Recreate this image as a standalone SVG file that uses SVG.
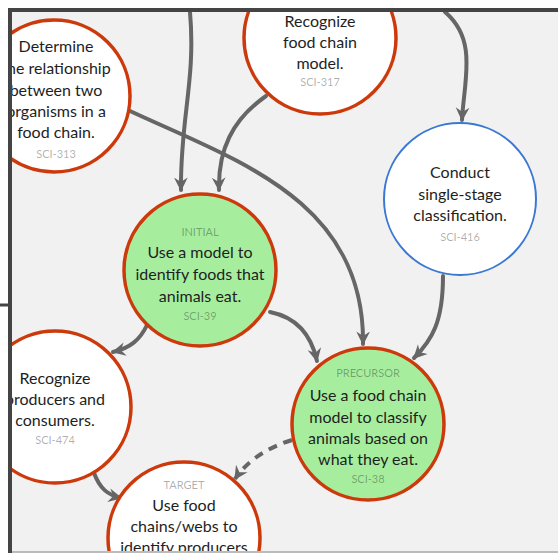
<svg xmlns="http://www.w3.org/2000/svg" width="558" height="553" viewBox="0 0 558 553">
<defs>
<clipPath id="frameClip"><rect x="12" y="12" width="546" height="539"/></clipPath>
<marker id="arr" markerUnits="userSpaceOnUse" markerWidth="15" markerHeight="15" viewBox="0 0 12 12" refX="10" refY="6" orient="auto">
<path d="M0,0.5 L11,6 L0,11.5 L3.5,6 z" fill="#666"/>
</marker>
<style>
.edge{fill:none;stroke:#666;stroke-width:4;stroke-linecap:round}
.dash{stroke-dasharray:9 7;stroke-linecap:butt}
.red{stroke:#cc3a0c;stroke-width:3.5}
.blue{stroke:#3b78d4;stroke-width:2}
.white{fill:#fff}
.green{fill:#a6ee9e}
text{font-family:Lato,"Open Sans","Noto Sans",sans-serif;text-anchor:middle}
.t{font-size:16px;fill:#1e1e1e}
.s{font-size:11px;fill:#000;fill-opacity:0.32}
</style>
</defs>
<rect x="0" y="0" width="558" height="553" fill="#fff"/>
<rect x="12" y="12" width="546" height="539" fill="#f1f1f1"/>
<g clip-path="url(#frameClip)">
<g id="connectors">
<path class="edge" d="M190,12 C196,80 180,120 181,190" marker-end="url(#arr)"/>
<path class="edge" d="M266,96 C232,120 218,150 219,190" marker-end="url(#arr)"/>
<path class="edge" d="M130,111 C235,160 365,200 363,344" marker-end="url(#arr)"/>
<path class="edge" d="M445,12 C478,40 464,80 462,120" marker-end="url(#arr)"/>
<path class="edge" d="M443,276 C443,322 432,340 414,358" marker-end="url(#arr)"/>
<path class="edge" d="M270,312 C300,318 312,338 317,361" marker-end="url(#arr)"/>
<path class="edge" d="M147,325 C140,340 130,348 113,352" marker-end="url(#arr)"/>
<path class="edge" d="M94,473 C100,489 108,495 121,498" marker-end="url(#arr)"/>
<path class="edge dash" d="M292,440 C266,448 246,462 235,479" marker-end="url(#arr)"/>
</g>
<g id="sci-313">
<circle class="white red" cx="54" cy="96" r="76"/>
<text class="t" x="56" y="52">Determine</text>
<text class="t" x="56" y="74">the relationship</text>
<text class="t" x="56" y="96">between two</text>
<text class="t" x="56" y="117">organisms in a</text>
<text class="t" x="56" y="138">food chain.</text>
<text class="s" x="56" y="158">SCI-313</text>
</g>
<g id="sci-317">
<circle class="white red" cx="320" cy="38" r="76"/>
<text class="t" x="320" y="27">Recognize</text>
<text class="t" x="320" y="48">food chain</text>
<text class="t" x="320" y="69">model.</text>
<text class="s" x="320" y="86">SCI-317</text>
</g>
<g id="sci-416">
<circle class="white blue" cx="460" cy="199" r="76"/>
<text class="t" x="460" y="178">Conduct</text>
<text class="t" x="460" y="200">single-stage</text>
<text class="t" x="460" y="221">classification.</text>
<text class="s" x="460" y="241">SCI-416</text>
</g>
<g id="sci-39">
<circle class="green red" cx="200" cy="270" r="76"/>
<text class="s" x="200" y="236">INITIAL</text>
<text class="t" x="200" y="258">Use a model to</text>
<text class="t" x="200" y="280">identify foods that</text>
<text class="t" x="200" y="302">animals eat.</text>
<text class="s" x="200" y="320">SCI-39</text>
</g>
<g id="sci-474">
<circle class="white red" cx="55" cy="407" r="76"/>
<text class="t" x="55" y="384">Recognize</text>
<text class="t" x="55" y="405">producers and</text>
<text class="t" x="55" y="426">consumers.</text>
<text class="s" x="55" y="444">SCI-474</text>
</g>
<g id="sci-38">
<circle class="green red" cx="368" cy="424" r="76"/>
<text class="s" x="368" y="377">PRECURSOR</text>
<text class="t" x="368" y="401">Use a food chain</text>
<text class="t" x="368" y="423">model to classify</text>
<text class="t" x="368" y="444">animals based on</text>
<text class="t" x="368" y="465">what they eat.</text>
<text class="s" x="368" y="483">SCI-38</text>
</g>
<g id="target">
<circle class="white red" cx="184" cy="538" r="76"/>
<text class="s" x="184" y="489">TARGET</text>
<text class="t" x="184" y="511">Use food</text>
<text class="t" x="184" y="532">chains/webs to</text>
<text class="t" x="184" y="553">identify producers</text>
</g>
</g>
<g id="frame" fill="none">
<path d="M10,553 L10,10 L558,10" stroke="#444" stroke-width="4"/>
<line x1="0" y1="305" x2="10" y2="305" stroke="#444" stroke-width="3"/>
<line x1="12" y1="552" x2="558" y2="552" stroke="#bbb" stroke-width="2"/>
</g>
</svg>
